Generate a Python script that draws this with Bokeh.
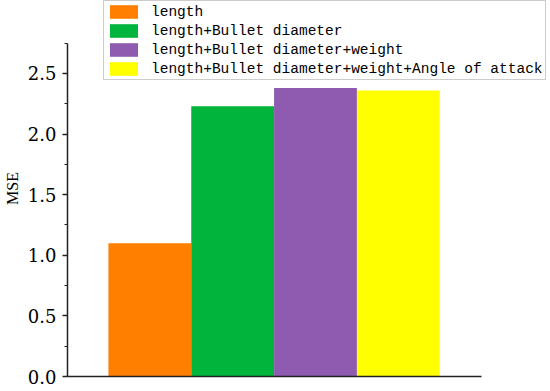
from bokeh.plotting import figure
from bokeh.models import (ColumnDataSource, Range1d, SingleIntervalTicker, FixedTicker,
                          NumeralTickFormatter, Legend, LegendItem)
from bokeh.embed import file_html
from bokeh.resources import INLINE

features = ["length", "length+Bullet diameter", "length+Bullet diameter+weight",
            "length+Bullet diameter+weight+Angle of attack"]
mse = [1.10, 2.23, 2.38, 2.36]
colors = ["#FF8000", "#00B43C", "#8E5BB0", "#FFFF00"]

pos = list(range(len(features)))
src = ColumnDataSource(dict(x=pos, y=mse, c=colors, lab=features))

n = len(features)
p = figure(width=550, height=391, output_backend="svg", toolbar_location=None,
           x_range=Range1d(-0.994, n - 0.5 + 1.337),
           y_range=Range1d(0, 3.102),
           min_border_left=67, min_border_right=0, min_border_top=0, min_border_bottom=15)
p.outline_line_color = None
p.grid.visible = False

r = p.vbar(x="x", top="y", width=1.0, fill_color="c", line_color=None, source=src)

xa = p.xaxis[0]
xa.bounds = (-0.994, n - 0.5 + 0.506)
xa.ticker = FixedTicker(ticks=[])
xa.axis_line_color = "#222222"
xa.axis_line_width = 1.5
xa.major_tick_out = 0
xa.major_tick_in = 0
xa.minor_tick_out = 0
xa.minor_tick_in = 0
xa.major_label_standoff = 0
xa.major_label_text_font_size = "0px"

ya = p.yaxis[0]
ya.bounds = (0, 2.75)
ya.ticker = SingleIntervalTicker(interval=0.5, num_minor_ticks=2)
ya.formatter = NumeralTickFormatter(format="0.0")
ya.axis_line_color = "#222222"
ya.axis_line_width = 1.5
ya.major_tick_line_color = "#222222"
ya.major_tick_line_width = 1.5
ya.minor_tick_line_color = "#222222"
ya.major_tick_in = 0
ya.major_tick_out = 5
ya.minor_tick_in = 0
ya.minor_tick_out = 3
ya.major_label_standoff = 6
ya.major_label_text_font = "DejaVu Serif"
ya.major_label_text_font_size = "18px"
ya.major_label_text_color = "black"
ya.axis_label = "MSE"
ya.axis_label_text_font = "Liberation Serif"
ya.axis_label_text_font_style = "normal"
ya.axis_label_text_font_size = "16px"
ya.axis_label_text_color = "black"
ya.axis_label_standoff = 4

legend = Legend(items=[LegendItem(label=features[i], renderers=[r], index=i) for i in range(n)],
                location=(36, 296))
legend.label_text_font = "Liberation Mono"
legend.label_text_font_size = "14.5px"
legend.label_text_color = "black"
legend.glyph_width = 35
legend.glyph_height = 17
legend.label_height = 17
legend.spacing = 2
legend.padding = 2
legend.margin = 0
legend.label_standoff = 10
legend.border_line_color = "#999999"
legend.border_line_width = 1
legend.background_fill_color = "white"
legend.background_fill_alpha = 1.0
p.add_layout(legend, "center")

open("out.html", "w").write(file_html(p, INLINE))
